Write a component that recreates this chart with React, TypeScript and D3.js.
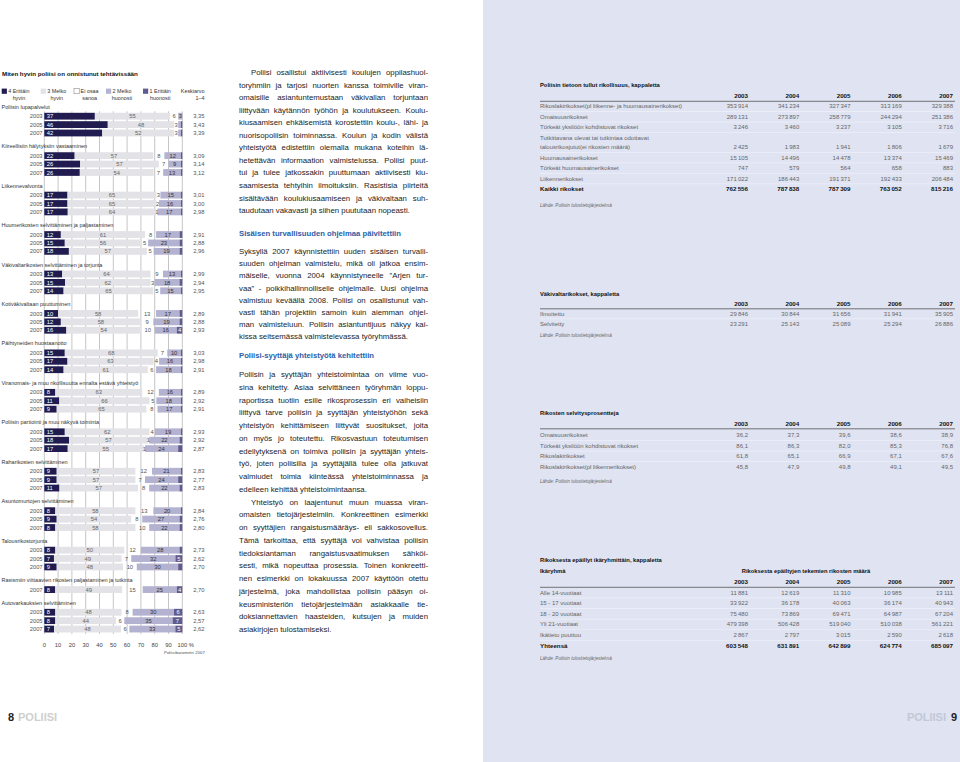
import { useMemo } from "react";
import * as d3 from "d3";

const FONT = '"Liberation Sans", Arial, Helvetica, sans-serif';

// ---- chart: Miten hyvin poliisi on onnistunut tehtävissään
const groupNames = [
    "Poliisin lupapalvelut",
    "Kiireellisiin hälytyksiin vastaaminen",
    "Liikennevalvonta",
    "Huumerikosten selvittäminen ja paljastaminen",
    "Väkivaltarikosten selvittäminen ja torjunta",
    "Kotiväkivaltaan puuttuminen",
    "Päihtyneiden huostaanotto",
    "Viranomais- ja muu rikollisuutta ennalta estävä yhteistyö",
    "Poliisin partiointi ja muu näkyvä toiminta",
    "Raharikosten selvittäminen",
    "Asuntomurtojen selvittäminen",
    "Talousrikostorjunta",
    "Rasismiin viittaavien rikosten paljastaminen ja tutkinta",
    "Autovarkauksien selvittäminen",
];
const Y3 = [2003, 2005, 2007];
const groupYears = [Y3, Y3, Y3, Y3, Y3, Y3, Y3, Y3, Y3, Y3, Y3, Y3, [2007], Y3];

const erittainHyvin = [[37, 46, 42], [22, 26, 26], [17, 17, 17], [12, 15, 18], [13, 15, 14], [10, 12, 16], [15, 17, 14], [8, 11, 9], [15, 18, 17], [9, 9, 11], [8, 9, 8], [8, 7, 9], [8], [8, 8, 7]];
const melkoHyvin = [[55, 48, 52], [57, 57, 54], [65, 65, 64], [61, 56, 57], [64, 62, 65], [58, 58, 54], [68, 63, 61], [63, 66, 65], [62, 57, 55], [57, 57, 57], [58, 54, 58], [50, 49, 48], [49], [48, 44, 48]];
const eiOsaa = [[6, 3, 3], [8, 7, 7], [3, 2, 1], [8, 5, 5], [9, 3, 5], [13, 9, 10], [7, 4, 6], [12, 5, 8], [4, 1, 1], [12, 7, 8], [13, 8, 10], [12, 7, 10], [15], [8, 6, 6]];
const melkoHuonosti = [[3, 2, 2], [12, 9, 13], [15, 16, 17], [17, 23, 19], [13, 18, 15], [17, 19, 16], [10, 16, 18], [16, 18, 17], [19, 22, 24], [21, 24, 22], [20, 27, 22], [28, 32, 30], [25], [30, 35, 33]];
const erittainHuonosti = [[0, 1, 1], [1, 1, 1], [1, 1, 1], [2, 2, 2], [1, 2, 1], [2, 2, 4], [1, 1, 1], [1, 1, 1], [1, 2, 3], [1, 3, 2], [1, 2, 2], [2, 5, 3], [4], [6, 7, 5]];
const keskiarvo = [[3.35, 3.43, 3.39], [3.09, 3.14, 3.12], [3.01, 3.0, 2.98], [2.91, 2.88, 2.96], [2.99, 2.94, 2.95], [2.89, 2.88, 2.93], [3.03, 2.98, 2.91], [2.89, 2.92, 2.91], [2.93, 2.92, 2.87], [2.83, 2.77, 2.83], [2.84, 2.76, 2.8], [2.73, 2.62, 2.7], [2.7], [2.63, 2.57, 2.62]];

const legendLabels = [["4 Erittäin", "hyvin"], ["3 Melko", "hyvin"], ["Ei osaa", "sanoa"], ["2 Melko", "huonosti"], ["1 Erittäin", "huonosti"]];
const segColors = ["#201c50", "#e2e2e7", "none", "#b4b2d1", "#605b8f"];

// ---- body text
const para1 = [
    "Poliisi osallistui aktiivisesti koulujen oppilashuol-",
    "toryhmiin ja tarjosi nuorten kanssa toimiville viran-",
    "omaisille asiantuntemustaan väkivallan torjuntaan",
    "liittyvään käytännön työhön ja koulutukseen. Koulu-",
    "kiusaamisen ehkäisemistä korostettiin koulu-, lähi- ja",
    "nuorisopoliisin toiminnassa. Koulun ja kodin välistä",
    "yhteistyötä edistettiin olemalla mukana koteihin lä-",
    "hetettävän informaation valmistelussa. Poliisi puut-",
    "tui ja tulee jatkossakin puuttumaan aktiivisesti kiu-",
    "saamisesta tehtyihin ilmoituksiin. Rasistisia piirteitä",
    "sisältävään koulukiusaamiseen ja väkivaltaan suh-",
    "taudutaan vakavasti ja siihen puututaan nopeasti.",
];
const heading1 = "Sisäisen turvallisuuden ohjelmaa päivitettiin";
const para2 = [
    "Syksyllä 2007 käynnistettiin uuden sisäisen turvalli-",
    "suuden ohjelman valmistelu, mikä oli jatkoa ensim-",
    "mäiselle, vuonna 2004 käynnistyneelle \u201dArjen tur-",
    "vaa\u201d - poikkihallinnolliselle ohjelmalle. Uusi ohjelma",
    "valmistuu keväällä 2008. Poliisi on osallistunut vah-",
    "vasti tähän projektiin samoin kuin aiemman ohjel-",
    "man valmisteluun. Poliisin asiantuntijuus näkyy kai-",
    "kissa seitsemässä valmistelevassa työryhmässä.",
];
const heading2 = "Poliisi-syyttäjä yhteistyötä kehitettiin";
const para3 = [
    "Poliisin ja syyttäjän yhteistoimintaa on viime vuo-",
    "sina kehitetty. Asiaa selvittäneen työryhmän loppu-",
    "raportissa tuotiin esille rikosprosessin eri vaiheisiin",
    "liittyvä tarve poliisin ja syyttäjän yhteistyöhön sekä",
    "yhteistyön kehittämiseen liittyvät suositukset, joita",
    "on myös jo toteutettu. Rikosvastuun toteutumisen",
    "edellytyksenä on toimiva poliisin ja syyttäjän yhteis-",
    "työ, joten poliisilla ja syyttäjällä tulee olla jatkuvat",
    "valmiudet toimia kiinteässä yhteistoiminnassa ja",
    "edelleen kehittää yhteistoimintaansa.",
];
const para4 = [
    "Yhteistyö on laajentunut muun muassa viran-",
    "omaisten tietojärjestelmiin. Konkreettinen esimerkki",
    "on syyttäjien rangaistusmääräys- eli sakkosovellus.",
    "Tämä tarkoittaa, että syyttäjä voi vahvistaa poliisin",
    "tiedoksiantaman rangaistusvaatimuksen sähköi-",
    "sesti, mikä nopeuttaa prosessia. Toinen konkreetti-",
    "nen esimerkki on lokakuussa 2007 käyttöön otettu",
    "järjestelmä, joka mahdollistaa poliisin pääsyn oi-",
    "keusministeriön tietojärjestelmään asiakkaalle tie-",
    "doksiannettavien haasteiden, kutsujen ja muiden",
    "asiakirjojen tulostamiseksi.",
];

// ---- tables
const tableYears = [2003, 2004, 2005, 2006, 2007];

const rikollisuusLabels = [
    "Rikoslakirikokset(pl liikenne- ja huumausainerikokset)",
    "Omaisuusrikokset",
    "Törkeät yksilöön kohdistuvat rikokset",
    "Tutkittavana olevat tai tutkintaa odottavat\ntalousrikosjutut(ei rikosten määrä)",
    "Huumausainerikokset",
    "Törkeät huumausainerikokset",
    "Liikennerikokset",
    "Kaikki rikokset",
];
const rikollisuusValues = [
    [353914, 341234, 327347, 313169, 329388],
    [289131, 273897, 258779, 244294, 251386],
    [3246, 3460, 3237, 3105, 3716],
    [2425, 1983, 1941, 1806, 1679],
    [15105, 14496, 14478, 13374, 15469],
    [747, 579, 564, 658, 883],
    [171022, 186443, 191371, 192433, 206484],
    [762556, 787838, 787309, 763052, 815216],
];

const vakivaltaLabels = ["Ilmoitettu", "Selvitetty"];
const vakivaltaValues = [
    [29846, 30844, 31656, 31941, 35905],
    [23291, 25143, 25089, 25294, 26886],
];

const selvitysLabels = [
    "Omaisuusrikokset",
    "Törkeät yksilöön kohdistuvat rikokset",
    "Rikoslakirikokset",
    "Rikoslakirikokset(pl liikennerikokset)",
];
const selvitysValues = [
    [36.2, 37.3, 39.6, 38.6, 38.9],
    [86.1, 86.3, 82.0, 85.3, 76.8],
    [61.8, 65.1, 66.9, 67.1, 67.6],
    [45.8, 47.9, 49.8, 49.1, 49.5],
];

const ikaLabels = ["Alle 14-vuotiaat", "15 - 17  vuotiaat", "18 - 20  vuotiaat", "Yli 21-vuotiaat", "Ikätieto puuttuu", "Yhteensä"];
const ikaValues = [
    [11881, 12619, 11310, 10985, 13111],
    [33922, 36178, 40063, 36174, 40943],
    [75480, 73869, 69471, 64987, 67204],
    [479398, 506428, 519040, 510038, 561221],
    [2867, 2797, 3015, 2590, 2618],
    [603548, 631891, 642899, 624774, 685097],
];

const lahde = "Lähde: Poliisin tulostietojärjestelmä";

const fi = d3.formatLocale({ decimal: ",", thousands: "\u2009", grouping: [3], currency: ["", " €"] });
const fmtInt = fi.format(",d");
const fmtOne = fi.format(".1f");
const fmtMean = fi.format(".2f");

type Measure = (s: string, size: number, weight?: string) => number;

function Chart({ measure }: { measure: Measure }) {
    const x = d3.scaleLinear().domain([0, 100]).range([44.3, 182.3]);
    const rowStep = 8.4;
    const headGap = 9.5;
    const groupGap = 13.15;

    const headers: { name: string; y: number }[] = [];
    const rows: any[] = [];
    let cy = 106.7;
    groupNames.forEach((name, g) => {
        headers.push({ name, y: cy });
        groupYears[g].forEach((year, i) => {
            rows.push({
                year,
                y: cy + headGap + i * rowStep,
                vals: [erittainHyvin[g][i], melkoHyvin[g][i], eiOsaa[g][i], melkoHuonosti[g][i], erittainHuonosti[g][i]],
                mean: keskiarvo[g][i],
            });
        });
        cy += headGap + (groupYears[g].length - 1) * rowStep + groupGap;
    });

    const stack = d3
        .stack<any, number>()
        .keys([0, 1, 2, 3, 4])
        .value((d: any, k: number) => (d.vals[k] * 100) / d3.sum(d.vals));
    const series = stack(rows);

    const bh = 6.8;
    const gridTop = rows[0].y - bh / 2 - 1.5;
    const gridBottom = rows[rows.length - 1].y + bh / 2 + 1.5;
    const ticks = d3.range(0, 101, 10);
    const legX = [1.7, 40.7, 74, 106, 143];

    return (
        <g fontFamily={FONT}>
            <text x={2} y={76} fontSize={6.2} fontWeight="bold" fill="#111">
                Miten hyvin poliisi on onnistunut tehtävissään
            </text>

            {legendLabels.map((lab, i) => {
                const lx = legX[i] + 6.6;
                const cx = lx + measure(lab[0], 5.4) / 2;
                return (
                    <g key={i}>
                        <rect x={legX[i]} y={88.6} width={5.2} height={5.2}
                            fill={i === 2 ? "#fff" : segColors[i]} stroke={i === 2 ? "#777" : "none"} strokeWidth={0.5} />
                        <text x={cx} y={93.4} fontSize={5.4} textAnchor="middle" fill="#333">{lab[0]}</text>
                        <text x={cx} y={100} fontSize={5.4} textAnchor="middle" fill="#333">{lab[1]}</text>
                    </g>
                );
            })}
            <text x={204.5} y={93.4} fontSize={5.4} textAnchor="end" fill="#333">Keskiarvo</text>
            <text x={204.5} y={100} fontSize={5.4} textAnchor="end" fill="#333">1–4</text>

            {ticks.map(t => (
                <line key={t} x1={x(t)} x2={x(t)} y1={gridTop} y2={gridBottom} stroke="#9d9d9d" strokeWidth={0.6} />
            ))}

            {headers.map(h => (
                <text key={h.name} x={1.5} y={h.y + 2} fontSize={5.5} fill="#333">{h.name}</text>
            ))}

            {series.map((s, k) => (
                <g key={k}>
                    {s.map((d: any, i: number) => (
                        <rect key={i} x={x(d[0])} y={rows[i].y - bh / 2} width={Math.max(0, x(d[1]) - x(d[0]))}
                            height={bh} fill={segColors[k]} />
                    ))}
                </g>
            ))}

            {series.map((s, k) => (
                <g key={"l" + k} fontSize={5.8}>
                    {s.map((d: any, i: number) => {
                        const v = rows[i].vals[k];
                        if (k === 0) return <text key={i} x={x(0) + 2.4} y={rows[i].y + 2.1} fill="#fff">{v}</text>;
                        if (k === 2 && v < 1) return null;
                        if (k === 3 && v < 3) return null;
                        if (k === 4 && v < 4) return null;
                        const fill = k === 1 ? "#666" : k === 2 ? "#555" : k === 3 ? "#333" : "#fff";
                        return (
                            <text key={i} x={(x(d[0]) + x(d[1])) / 2} y={rows[i].y + 2.1} textAnchor="middle" fill={fill}>{v}</text>
                        );
                    })}
                </g>
            ))}

            {rows.map((r, i) => (
                <g key={"y" + i} fontSize={5.8} fill="#555">
                    <text x={42.6} y={r.y + 2.1} textAnchor="end">{r.year}</text>
                    <text x={204.5} y={r.y + 2.1} textAnchor="end">{fmtMean(r.mean)}</text>
                </g>
            ))}

            {ticks.map(t => (
                <text key={"t" + t} x={x(t)} y={646.5} fontSize={5.8} textAnchor="middle" fill="#444">{t}</text>
            ))}
            <text x={x(100) + 6.5} y={646.5} fontSize={5.8} fill="#444">%</text>
            <text x={205} y={654} fontSize={4.4} textAnchor="end" fill="#555">Poliisibarometri 2007</text>
        </g>
    );
}

function Para({ lines, x0, x1, y, lh, indent, measure, size }: {
    lines: string[]; x0: number; x1: number; y: number; lh: number; indent: number; measure: Measure; size: number;
}) {
    return (
        <g>
            {lines.map((line, i) => {
                const lx = i === 0 ? x0 + indent : x0;
                const ly = y + i * lh;
                if (i === lines.length - 1) {
                    return <text key={i} x={lx} y={ly}>{line}</text>;
                }
                const words = line.split(" ");
                const ws = words.map(w => measure(w, size));
                const gap = (x1 - lx - d3.sum(ws)) / Math.max(1, words.length - 1);
                if (gap < 1.7) {
                    // too tight for word spacing alone: squeeze the whole line a little
                    return (
                        <text key={i} x={lx} y={ly} textLength={x1 - lx} lengthAdjust="spacingAndGlyphs">{line}</text>
                    );
                }
                let cx = lx;
                return (
                    <text key={i} y={ly}>
                        {words.map((w, j) => {
                            const t = <tspan key={j} x={cx}>{w}</tspan>;
                            cx += ws[j] + gap;
                            return t;
                        })}
                    </text>
                );
            })}
        </g>
    );
}

function Body({ measure }: { measure: Measure }) {
    const x0 = 239;
    const x1 = 428;
    const size = 7.8;
    const lh3 = 12.75;
    return (
        <g fontFamily={FONT} fontSize={size} fill="#1c1c1c">
            <Para lines={para1} x0={x0} x1={x1} y={75} lh={12.55} indent={12} measure={measure} size={size} />
            <text x={x0} y={236} fontWeight="bold" fill="#2c5ea8" fontSize={7.7}>{heading1}</text>
            <Para lines={para2} x0={x0} x1={x1} y={254} lh={12.2} indent={0} measure={measure} size={size} />
            <text x={x0} y={358} fontWeight="bold" fill="#2c5ea8" fontSize={7.7}>{heading2}</text>
            <Para lines={para3} x0={x0} x1={x1} y={377} lh={lh3} indent={0} measure={measure} size={size} />
            <Para lines={para4} x0={x0} x1={x1} y={377 + para3.length * lh3} lh={lh3} indent={12} measure={measure} size={size} />
        </g>
    );
}

function Table({ title, sub, titleY, headerY, rowY, step, lahdeY, labels, values, fmt, boldLast }: {
    title: string; sub?: [string, string]; titleY: number; headerY: number; rowY: number; step: number; lahdeY: number;
    labels: string[]; values: number[][]; fmt: (n: number) => string; boldLast?: boolean;
}) {
    const x0 = 540;
    const xEnd = 955;
    const col = d3.scaleLinear().domain([0, tableYears.length - 1]).range([748, 953]);

    const placed: { label: string[]; y: number; bold: boolean; vals: number[] }[] = [];
    let y = rowY;
    labels.forEach((lab, i) => {
        const parts = lab.split("\n");
        const last = y + (parts.length - 1) * 9.5;
        placed.push({ label: parts, y, bold: !!boldLast && i === labels.length - 1, vals: values[i] });
        y = last + step;
    });

    return (
        <g fontFamily={FONT}>
            <text x={x0} y={titleY} fontSize={5.8} fontWeight="bold" fill="#111">{title}</text>
            {sub && (
                <g fontSize={5.8} fontWeight="bold" fill="#111">
                    <text x={x0} y={titleY + 11}>{sub[0]}</text>
                    <text x={806} y={titleY + 11} textAnchor="middle">{sub[1]}</text>
                </g>
            )}
            {tableYears.map((yr, j) => (
                <text key={yr} x={col(j)} y={headerY} fontSize={6.2} fontWeight="bold" textAnchor="end" fill="#111">{yr}</text>
            ))}
            <line x1={x0} x2={xEnd} y1={headerY + 3.3} y2={headerY + 3.3} stroke="#555" strokeWidth={0.8} />
            {placed.map((r, i) => {
                const lastY = r.y + (r.label.length - 1) * 9.5;
                return (
                    <g key={i} fontSize={r.bold ? 6.2 : 6} fontWeight={r.bold ? "bold" : "normal"} fill={r.bold ? "#111" : "#666"}>
                        {i > 0 && (
                            <line x1={x0} x2={xEnd} y1={r.y - 7.2} y2={r.y - 7.2} stroke="#f4f5fb" strokeWidth={0.6} />
                        )}
                        {r.label.map((p, k) => (
                            <text key={k} x={x0} y={r.y + k * 9.5}>{p}</text>
                        ))}
                        {r.vals.map((v, j) => (
                            <text key={j} x={col(j)} y={lastY} textAnchor="end">{fmt(v)}</text>
                        ))}
                    </g>
                );
            })}
            <text x={x0} y={lahdeY} fontSize={4.6} fontStyle="italic" fill="#666">{lahde}</text>
        </g>
    );
}

export default function App() {
    const measure = useMemo<Measure>(() => {
        const ctx = document.createElement("canvas").getContext("2d")!;
        return (s: string, size: number, weight = "normal") => {
            ctx.font = `${weight} ${size}px "Liberation Sans"`;
            return ctx.measureText(s).width;
        };
    }, []);

    return (
        <svg width={960} height={762} viewBox="0 0 960 762"
            style={{ position: "absolute", left: 0, top: 0, display: "block", background: "#fff" }}>
            <rect x={0} y={0} width={960} height={762} fill="#fff" />
            <rect x={483} y={0} width={477} height={762} fill="#dfe3f2" />

            <Chart measure={measure} />
            <Body measure={measure} />

            <Table title="Poliisin tietoon tullut rikollisuus, kappaletta" titleY={87} headerY={98} rowY={108.3} step={10.45}
                lahdeY={207} labels={rikollisuusLabels} values={rikollisuusValues} fmt={fmtInt} boldLast />
            <Table title="Väkivaltarikokset, kappaletta" titleY={296} headerY={305.5} rowY={315.5} step={10.5}
                lahdeY={337} labels={vakivaltaLabels} values={vakivaltaValues} fmt={fmtInt} />
            <Table title="Rikosten selvitysprosentteja" titleY={414.5} headerY={425.5} rowY={437} step={10.6}
                lahdeY={482.5} labels={selvitysLabels} values={selvitysValues} fmt={fmtOne} />
            <Table title="Rikoksesta epäillyt ikäryhmittäin, kappaletta" sub={["Ikäryhmä", "Rikoksesta epäiltyjen tekemien rikosten määrä"]}
                titleY={562} headerY={584} rowY={594.5} step={10.6} lahdeY={660}
                labels={ikaLabels} values={ikaValues} fmt={fmtInt} boldLast />

            <g fontFamily={FONT} fontWeight="bold" fontSize={11}>
                <text x={8} y={721} fill="#222">8</text>
                <text x={18} y={721} fill="#cfcfcf">POLIISI</text>
                <text x={946} y={721} textAnchor="end" fill="#c3c7d8">POLIISI</text>
                <text x={957} y={721} textAnchor="end" fill="#222">9</text>
            </g>
        </svg>
    );
}
